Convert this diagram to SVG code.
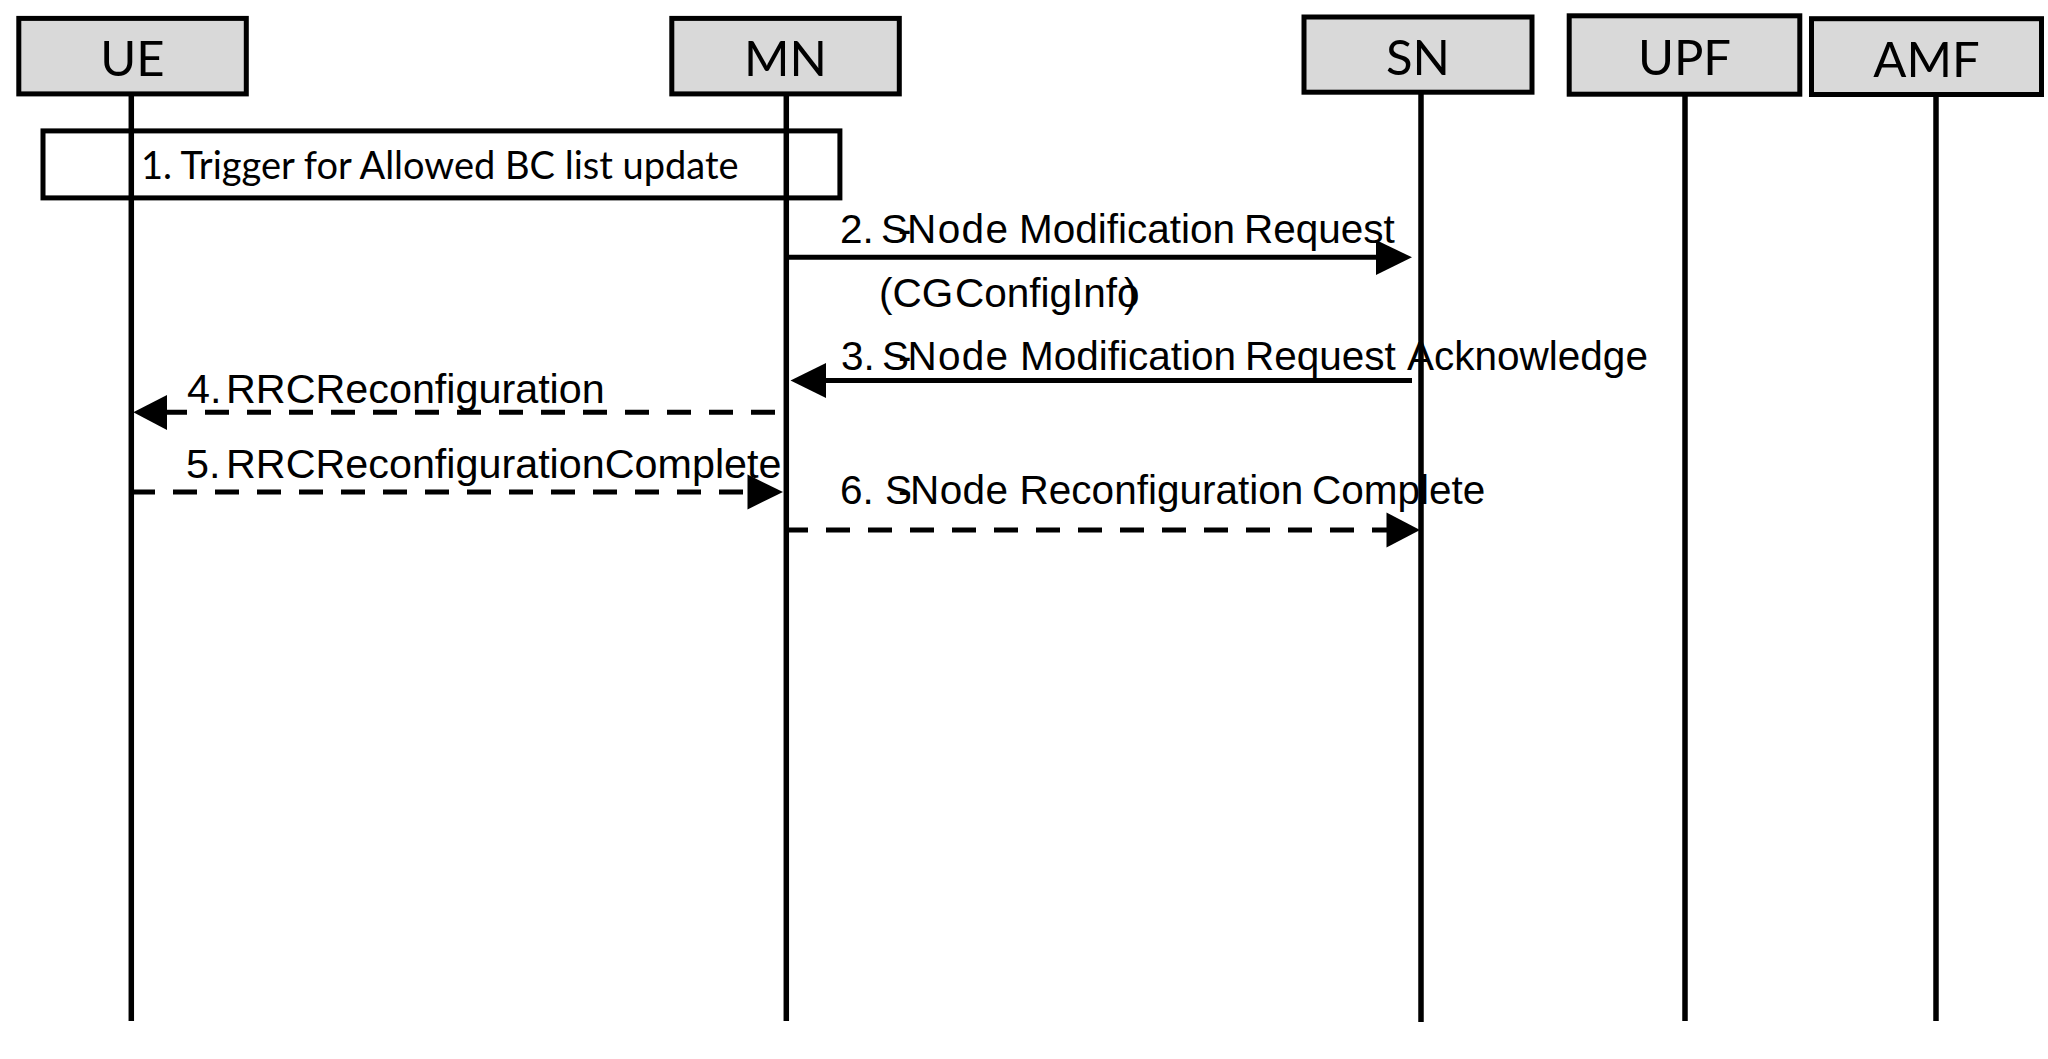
<svg xmlns="http://www.w3.org/2000/svg" width="2048" height="1059" viewBox="0 0 2048 1059">
<style>
.box{fill:#d9d9d9;stroke:#000;stroke-width:5}
.life{stroke:#000;stroke-width:5.5;fill:none}
.frame{fill:none;stroke:#000;stroke-width:5}
.lbl{font-family:Lato,"Liberation Sans",sans-serif;font-size:49px;fill:#000;text-anchor:middle}
.note{font-family:Lato,"Liberation Sans",sans-serif;font-size:38px;fill:#000}
.msg{font-family:"Liberation Sans",Arial,sans-serif;font-size:40.5px;fill:#000}
.msg2{font-family:"Liberation Sans",Arial,sans-serif;font-size:41.3px;fill:#000}
.solid{stroke:#000;stroke-width:5;fill:none}
.dash{stroke:#000;stroke-width:5;fill:none;stroke-dasharray:24 18}
.head{fill:#000;stroke:none}
</style>
<rect width="2048" height="1059" fill="#fff"/>
<g id="UE">
<line class="life" x1="131.3" y1="94" x2="131.3" y2="1021"/>
<rect class="box" x="18.8" y="18.4" width="227.5" height="75.5"/>
<text class="lbl" x="132.5" y="76">UE</text>
</g>
<g id="MN">
<line class="life" x1="786.3" y1="94" x2="786.3" y2="1021"/>
<rect class="box" x="671.8" y="18.4" width="227.5" height="75.5"/>
<text class="lbl" x="785.5" y="76">MN</text>
</g>
<g id="SN">
<line class="life" x1="1421" y1="92" x2="1421" y2="1022"/>
<rect class="box" x="1304" y="17" width="228" height="75.2"/>
<text class="lbl" x="1418" y="75">SN</text>
</g>
<g id="UPF">
<line class="life" x1="1685" y1="93" x2="1685" y2="1021"/>
<rect class="box" x="1569.2" y="15.8" width="230.6" height="78.4"/>
<text class="lbl" x="1684.5" y="75">UPF</text>
</g>
<g id="AMF">
<line class="life" x1="1936" y1="94" x2="1936" y2="1021"/>
<rect class="box" x="1811.5" y="18.7" width="230" height="75.8"/>
<text class="lbl" x="1926.5" y="77">AMF</text>
</g>
<g id="step1">
<rect class="frame" x="43" y="130.9" width="796.9" height="67"/>
<text class="note" x="141" y="178.5">1. Trigger for Allowed BC list update</text>
</g>
<g id="connectors">
<line class="solid" x1="786" y1="257.3" x2="1378" y2="257.3"/>
<polygon class="head" points="1376,240 1412,257.3 1376,275"/>
<line class="solid" x1="1412" y1="380.5" x2="824" y2="380.5"/>
<polygon class="head" points="826,363 790.5,380.5 826,398"/>
<path class="dash" d="M775,412.3 L167,412.3"/>
<polygon class="head" points="167,395 133.3,412.3 167,430"/>
<path class="dash" d="M131,492 L749,492"/>
<polygon class="head" points="747.5,474.5 783,492 747.5,509.5"/>
<path class="dash" d="M784,530 L1388,530"/>
<polygon class="head" points="1386.5,512.5 1420,530 1386.5,547.5"/>
</g>
<g id="labels">
<text class="msg" y="242.5"><tspan x="840">2.</tspan><tspan x="881">S</tspan><tspan x="898">-</tspan><tspan x="907" textLength="101">Node</tspan><tspan x="1019">Modification</tspan><tspan x="1244">Request</tspan></text>
<text class="msg" y="306.5"><tspan x="879">(CG</tspan><tspan x="955">ConfigInfo</tspan><tspan x="1124">)</tspan></text>
<text class="msg" y="369.5"><tspan x="841">3.</tspan><tspan x="882">S</tspan><tspan x="898">-</tspan><tspan x="907.6" textLength="100.5">Node</tspan><tspan x="1020">Modification</tspan><tspan x="1245">Request</tspan><tspan x="1407">Acknowledge</tspan></text>
<text class="msg2" y="403"><tspan x="187">4.</tspan><tspan x="226">RRCReconfiguration</tspan></text>
<text class="msg2" y="478"><tspan x="186">5.</tspan><tspan x="226">RRCReconfigurationComplete</tspan></text>
<text class="msg" y="503.5"><tspan x="840">6.</tspan><tspan x="885">S</tspan><tspan x="898">-</tspan><tspan x="910" textLength="98">Node</tspan><tspan x="1019.6">Reconfiguration</tspan><tspan x="1312">Complete</tspan></text>
</g>
</svg>
